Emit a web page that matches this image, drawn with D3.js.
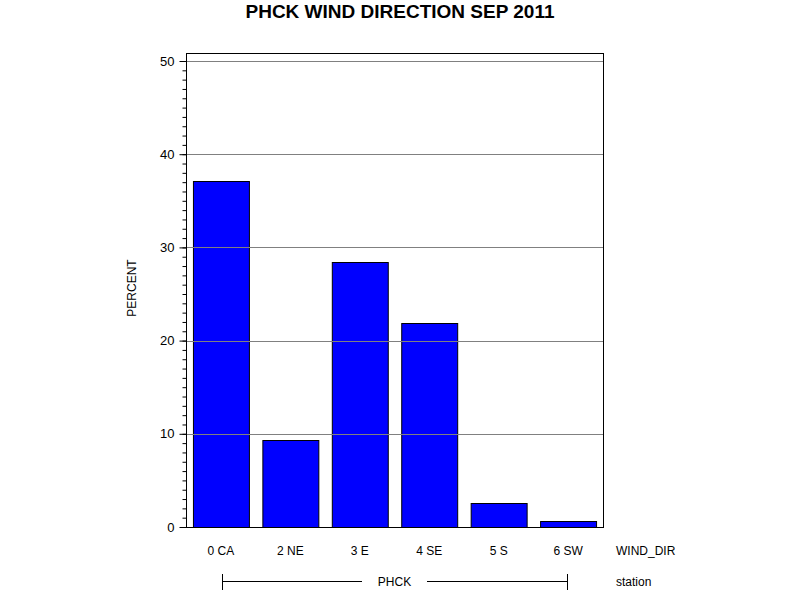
<!DOCTYPE html>
<html>
<head>
<meta charset="utf-8">
<script src="https://cdn.jsdelivr.net/npm/d3@7"></script>
<style>
  body { margin: 0; background: #fff; }
  text { font-family: "Liberation Sans", Arial, sans-serif; fill: #000; }
</style>
</head>
<body>
<svg id="chart"></svg>
<script>
// wind direction categories and percent of observations
var categories = ["0 CA", "2 NE", "3 E", "4 SE", "5 S", "6 SW"];
var percents = [37.1, 9.3, 28.4, 21.9, 2.6, 0.6];
var majorTicks = [0, 10, 20, 30, 40, 50];
var stationName = "PHCK";

var data = categories.map(function (c, i) { return [c, percents[i]]; });

var width = 800, height = 600;
var margin = {top: 53, right: 197, bottom: 73, left: 186};

var svg = d3.select("#chart")
    .attr("width", width)
    .attr("height", height);

var x = d3.scaleBand()
    .domain(categories)
    .range([margin.left, width - margin.right])
    .paddingInner(0.194)
    .paddingOuter(0.1);

var y = d3.scaleLinear()
    .domain([0, 50])
    .range([height - margin.bottom, 61]);

// title
svg.append("text")
    .attr("x", 400)
    .attr("y", 18)
    .attr("text-anchor", "middle")
    .style("font-size", "19px")
    .style("font-weight", "bold")
    .text("PHCK WIND DIRECTION SEP 2011");

// bars
svg.append("g")
    .selectAll("rect")
    .data(data)
    .enter()
    .append("rect")
    .attr("x", function (d) { return x(d[0]) + 0.5; })
    .attr("y", function (d) { return Math.round(y(d[1])) + 0.5; })
    .attr("width", x.bandwidth())
    .attr("height", function (d) { return y(0) - Math.round(y(d[1])); })
    .style("fill", "#0000ff")
    .style("stroke", "#000")
    .style("stroke-width", 1);

// gridlines on top of the bars
svg.append("g")
    .selectAll("line")
    .data(majorTicks.filter(function (t) { return t > 0; }))
    .enter()
    .append("line")
    .attr("x1", margin.left)
    .attr("x2", width - margin.right)
    .attr("y1", function (d) { return Math.round(y(d)) + 0.5; })
    .attr("y2", function (d) { return Math.round(y(d)) + 0.5; })
    .style("stroke", "#808080")
    .style("stroke-width", 1);

// frame
svg.append("rect")
    .attr("x", margin.left + 0.5)
    .attr("y", margin.top + 0.5)
    .attr("width", width - margin.right - margin.left)
    .attr("height", height - margin.bottom - margin.top)
    .style("fill", "none")
    .style("stroke", "#000");

// y axis: major ticks with labels, minor ticks every unit
var yAxis = svg.append("g")
    .attr("transform", "translate(" + (margin.left + 0.5) + ",0)");
yAxis.append("g")
    .call(d3.axisLeft(y).tickValues(d3.range(0, 51, 1)).tickSize(4).tickFormat(""))
    .call(function (g) { g.select(".domain").remove(); });
yAxis.append("g")
    .call(d3.axisLeft(y).tickValues(majorTicks).tickSize(7).tickPadding(5).tickFormat(d3.format("d")))
    .call(function (g) {
        g.select(".domain").remove();
        g.selectAll("text").style("font-size", "13px").style("font-family", "Liberation Sans, Arial, sans-serif");
    });

svg.append("text")
    .attr("transform", "translate(136,288) rotate(-90)")
    .attr("text-anchor", "middle")
    .style("font-size", "12px")
    .text("PERCENT");

// category labels
svg.append("g")
    .selectAll("text")
    .data(categories)
    .enter()
    .append("text")
    .attr("x", function (d) { return x(d) + x.bandwidth() / 2; })
    .attr("y", 555)
    .attr("text-anchor", "middle")
    .style("font-size", "12px")
    .text(function (d) { return d; });

svg.append("text")
    .attr("x", 616)
    .attr("y", 555)
    .style("font-size", "12px")
    .text("WIND_DIR");

// station bracket
var bx1 = Math.round(x(categories[0]) + x.bandwidth() / 2) + 1.5;
var bx2 = Math.round(x(categories[categories.length - 1]) + x.bandwidth() / 2) - 0.5;
var by = 581.5;
var bracket = svg.append("g").style("stroke", "#000");
bracket.append("line").attr("x1", bx1).attr("x2", 362).attr("y1", by).attr("y2", by);
bracket.append("line").attr("x1", 427).attr("x2", bx2).attr("y1", by).attr("y2", by);
bracket.append("line").attr("x1", bx1).attr("x2", bx1).attr("y1", 574).attr("y2", 590);
bracket.append("line").attr("x1", bx2).attr("x2", bx2).attr("y1", 574).attr("y2", 590);

svg.append("text")
    .attr("x", (362 + 427) / 2)
    .attr("y", 586)
    .attr("text-anchor", "middle")
    .style("font-size", "12px")
    .text(stationName);

svg.append("text")
    .attr("x", 616)
    .attr("y", 586)
    .style("font-size", "12px")
    .text("station");
</script>
</body>
</html>
